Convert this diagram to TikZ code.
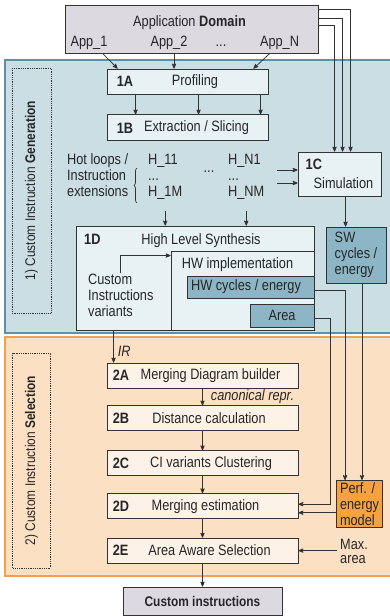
\documentclass[tikz,border=0pt]{standalone}
\usepackage{fontspec}
\setmainfont{Liberation Sans}[FakeStretch=0.85]
\usepackage{tikz}
\usetikzlibrary{arrows,positioning,calc,decorations.pathreplacing}
\definecolor{genfill}{HTML}{CBDEE4}
\definecolor{gendraw}{HTML}{5E91A5}
\definecolor{selfill}{HTML}{FCE0C4}
\definecolor{seldraw}{HTML}{F5A050}
\definecolor{boxblue}{HTML}{E8F1F4}
\definecolor{boxpeach}{HTML}{FDF2E8}
\definecolor{midblue}{HTML}{8CB6C5}
\definecolor{modelorange}{HTML}{F7A240}
\definecolor{domgray}{HTML}{DDD9E1}
\definecolor{ink}{HTML}{333333}

\begin{document}
\begin{tikzpicture}[x=1pt, y=-1pt, >=stealth', font=\fontsize{15}{16}\selectfont]
\tikzstyle{every node}=[inner sep=0pt, text=black!85]
\tikzstyle{stage}=[draw=ink, line width=0.9pt, minimum height=25pt]
\tikzstyle{tag}=[draw=black!80, densely dotted, line width=0.8pt, rotate=90, font=\fontsize{14}{16}\selectfont]
\tikzstyle{flow}=[->, draw=ink, line width=0.8pt]
\tikzstyle{note}=[font=\fontsize{15}{16}\selectfont\itshape]

\useasboundingbox (0,0) rectangle (389,616);
\draw[draw=gendraw, fill=genfill, line width=1.3pt] (5,60) rectangle (400,333);
\draw[draw=seldraw, fill=selfill, line width=1.3pt] (5,337) rectangle (400,576);

\node[tag, minimum width=245pt, minimum height=39pt] (gen) at (31.5,190.5) {1) Custom Instruction \textbf{Generation}};
\node[tag, minimum width=215pt, minimum height=38pt] (sel) at (31.5,460.5) {2) Custom Instruction \textbf{Selection}};

\node[stage, fill=domgray, minimum width=253pt, minimum height=48pt] (dom) at (191.5,29) {};
\node[anchor=base] (domt) at (189.5,26) {Application \textbf{Domain}};
\node[anchor=base] (app1) at (89,46) {App\_1};
\node[anchor=base] (app2) at (169,46) {App\_2};
\node[anchor=base] (appd) at (221,46) {...};
\node[anchor=base] (appn) at (279.5,46) {App\_N};

\node[stage, fill=boxblue, minimum width=161pt, label={[anchor=west, xshift=10pt]west:\textbf{1A}}] (p1a) at (187.5,81.5) {\hspace*{15pt}Profiling};
\node[stage, fill=boxblue, minimum width=161pt, minimum height=26pt, label={[anchor=west, xshift=10pt]west:\textbf{1B}}] (p1b) [below=20pt of p1a] {\hspace*{18pt}Extraction / Slicing};

\node[anchor=west, align=left] (hot) at (67,175.5) {Hot loops /\\Instruction\\extensions};
\draw[ink, line width=0.7pt, decorate, decoration={brace, amplitude=3pt}] (137,203) -- (137,168);
\node[anchor=west, align=left] (hc1) at (148,177) {H\_11\\...\\H\_1M};
\node[anchor=base] (hdots) at (209,172) {...};
\node[anchor=west, align=left] (hcn) at (228,177) {H\_N1\\...\\H\_NM};

\node[stage, fill=boxblue, minimum width=83pt, minimum height=44pt, align=left] (p1c) at (339.5,174) {\textbf{1C}\\[3pt]\hspace*{8pt}Simulation};
\node[stage, fill=midblue, minimum width=60pt, minimum height=56pt, align=left] (sw) at (356,255) {SW\\cycles /\\energy};

\node[stage, fill=boxblue, minimum width=238pt, minimum height=104pt] (p1d) at (195,278) {};
\node[anchor=base west] (p1dn) at (84,244) {\textbf{1D}};
\node[anchor=base] (hls) at (201,244) {High Level Synthesis};
\node[stage, fill=boxblue, minimum width=143pt, minimum height=79pt] (hwimpl) at (242.5,290.5) {};
\node[anchor=base] (hwt) at (237.5,268) {HW implementation};
\node[stage, fill=midblue, minimum width=127pt, minimum height=22pt] (hwc) at (250.5,287) {\hspace*{-9pt}HW cycles / energy};
\node[stage, fill=midblue, minimum width=64pt, minimum height=23pt] (area) at (282,315.5) {Area};
\node[anchor=west, align=left] (civar) at (88,295) {Custom\\Instructions\\variants};

\node[stage, fill=boxpeach, minimum width=191pt, label={[anchor=west, xshift=6pt]west:\textbf{2A}}] (p2a) at (202.5,375.5) {\hspace*{16pt}Merging Diagram builder};
\node[stage, fill=boxpeach, minimum width=191pt, label={[anchor=west, xshift=6pt]west:\textbf{2B}}] (p2b) [below=17pt of p2a] {\hspace*{13pt}Distance calculation};
\node[stage, fill=boxpeach, minimum width=191pt, label={[anchor=west, xshift=6pt]west:\textbf{2C}}] (p2c) [below=19pt of p2b] {\hspace*{17pt}CI variants Clustering};
\node[stage, fill=boxpeach, minimum width=191pt, label={[anchor=west, xshift=6pt]west:\textbf{2D}}] (p2d) [below=17pt of p2c] {\hspace*{6pt}Merging estimation};
\node[stage, fill=boxpeach, minimum width=191pt, label={[anchor=west, xshift=6pt]west:\textbf{2E}}] (p2e) [below=18.5pt of p2d] {\hspace*{14pt}Area Aware Selection};
\node[stage, fill=domgray, minimum width=159pt, minimum height=28.5pt, font=\fontsize{14}{16}\selectfont\bfseries] (ci) [below=23pt of p2e] {Custom instructions};

\node[stage, fill=modelorange, minimum width=46pt, minimum height=47pt, align=left] (perf) at (359.5,504) {Perf. /\\energy\\model};
\node[anchor=west, align=left, font=\fontsize{15}{14}\selectfont] (maxa) at (340,551) {Max.\\area};

\draw[flow] ($(app1.east |- dom.south)+(-5,0)$) -- ([xshift=11pt]p1a.north west);
\coordinate (a2) at ($(app2.south |- dom.south)+(5,0)$);
\draw[flow] (a2) -- (a2 |- p1a.north);
\draw[flow] ($(appn.west |- dom.south)+(10,0)$) -- ([xshift=-15pt]p1a.north east);

\foreach \dy/\dx in {5/53, 14/45, 21/37}
{\draw[flow] ([yshift=-\dy pt]dom.north east) -| ([xshift=\dx pt]p1c.north west);}

\foreach \dx in {29, 92, 154}
{\draw[flow] ([xshift=\dx pt]p1a.south west) -- ([xshift=\dx pt]p1b.north west);}

\coordinate (in1) at (277,170);
\coordinate (in2) at (277,183);
\foreach \c in {in1, in2}
{\draw[flow] (\c) -- (\c -| p1c.west);}

\foreach \h in {hc1, hcn}
{\draw[flow] ([yshift=-11pt]\h.south) -- (\h.south |- p1d.north);}

\draw[flow] (civar.north) |- ([yshift=-5pt]hwimpl.north west);

\coordinate (swin) at ([xshift=48pt]p1c.south west);
\draw[flow] (swin) -- (swin |- sw.north);
\coordinate (swo) at ([xshift=6pt]sw.south);
\draw[flow] (swo) -- (swo |- perf.north);
\draw[flow] ([yshift=-3pt]hwc.east) -| ([xshift=9pt]perf.north west);
\draw[flow] ([yshift=-2.5pt]area.east) -| ($(p2d.east)+(32,-2)$) -- ([yshift=2pt]p2d.east);
\coordinate (pm) at ([yshift=-6.5pt]p2d.east);
\draw[flow] (perf.west |- pm) -- (pm);

\coordinate (irin) at ([xshift=7pt]p2a.north west);
\draw[flow] (irin |- p1d.south) -- node[note, right=4pt, pos=0.65] {IR} (irin);
\draw[flow] (p2a) -- node[note, right=8pt] {canonical repr.} (p2b);
\foreach \a/\b in {p2b/p2c, p2c/p2d, p2d/p2e, p2e/ci}
{\path[flow] (\a) edge (\b);}

\coordinate (maxin) at ([xshift=-3pt]maxa.west);
\draw[flow] (maxin |- p2e.east) -- (p2e.east);
\end{tikzpicture}
\end{document}
